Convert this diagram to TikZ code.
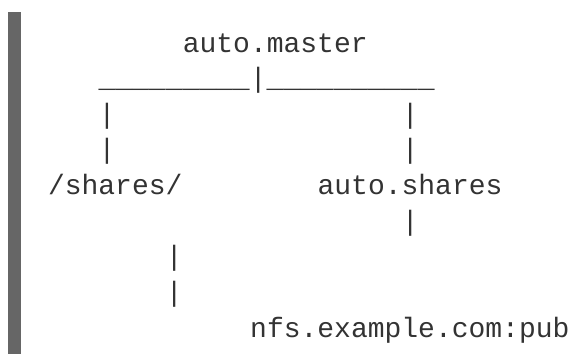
\documentclass[tikz,border=0pt]{standalone}
\usepackage{fontspec}
\setmonofont{Liberation Mono}
\definecolor{txt}{HTML}{333333}
\definecolor{barc}{HTML}{666666}
\tikzset{
  asc/.style={anchor=base west, inner sep=0pt, outer sep=0pt, text=txt, font=\ttfamily\fontsize{28}{34}\selectfont},
}
\begin{document}
\begin{tikzpicture}[x=1pt,y=-1pt]
\useasboundingbox[fill=white] (0,0) rectangle (573,354);
\fill[barc] (8,12) rectangle (20.7,354);
% rows: baseline 52 + 35.65k ; columns: 48 + 16.85c
\node[asc] (master) at (182.8,52) {auto.master};
\node[asc] (under) at (98.55,87.65) {\_\_\_\_\_\_\_\_\_|\_\_\_\_\_\_\_\_\_\_};
\node[asc] (l1) at (98.55,123.3) {|};
\node[asc] (r1) at (401.85,123.3) {|};
\node[asc] (l2) at (98.55,158.95) {|};
\node[asc] (r2) at (401.85,158.95) {|};
\node[asc] (shares) at (48,194.6) {/shares/};
\node[asc] (autoshares) at (317.6,194.6) {auto.shares};
\node[asc] (r3) at (401.85,230.25) {|};
\node[asc] (m1) at (165.95,265.9) {|};
\node[asc] (m2) at (165.95,301.55) {|};
\node[asc] (nfs) at (250.2,337.2) {nfs.example.com:pub};
\end{tikzpicture}
\end{document}
